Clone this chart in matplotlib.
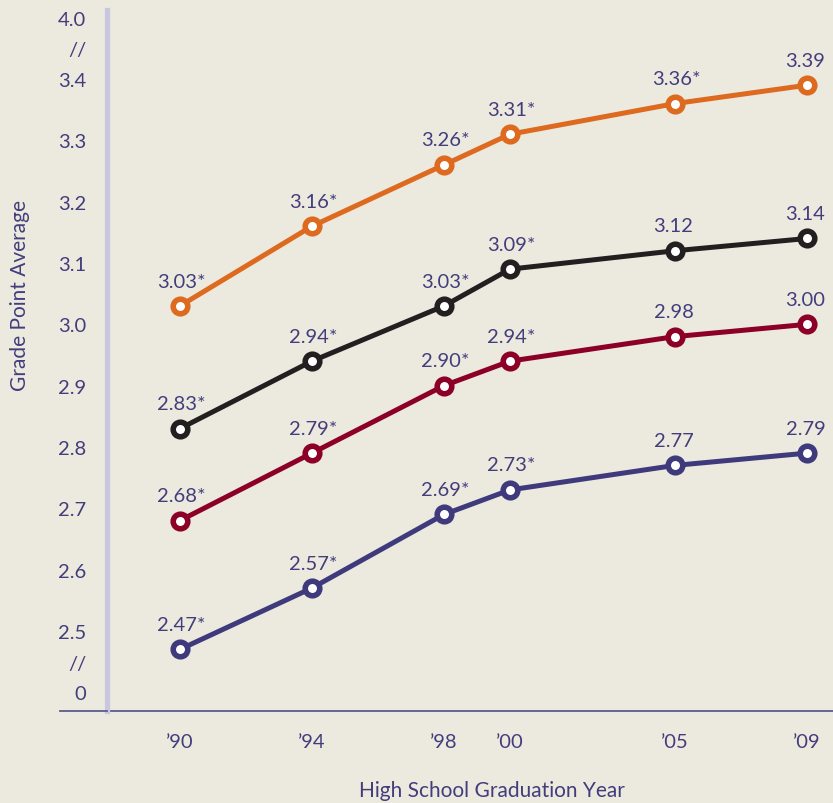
import matplotlib
matplotlib.use("Agg")
import matplotlib.pyplot as plt
from matplotlib.lines import Line2D

plt.rcParams['font.family'] = ['Lato', 'DejaVu Sans']

years = [1990, 1994, 1998, 2000, 2005, 2009]
year_labels = ["\u201990", "\u201994", "\u201998", "\u201900", "\u201905", "\u201909"]

gpa_orange = [3.03, 3.16, 3.26, 3.31, 3.36, 3.39]
gpa_black = [2.83, 2.94, 3.03, 3.09, 3.12, 3.14]
gpa_red = [2.68, 2.79, 2.90, 2.94, 2.98, 3.00]
gpa_purple = [2.47, 2.57, 2.69, 2.73, 2.77, 2.79]

star_orange = [True, True, True, True, True, False]
star_other = [True, True, True, True, False, False]

# axis ticks (break marks stand in for the gaps 0..2.5 and 3.4..4.0)
ytick_pos = [2.4, 2.45, 2.5, 2.6, 2.7, 2.8, 2.9, 3.0, 3.1, 3.2, 3.3, 3.4, 3.45, 3.5]
ytick_labels = ["0", "//", "2.5", "2.6", "2.7", "2.8", "2.9", "3.0", "3.1", "3.2",
                "3.3", "3.4", "//", "4.0"]

bg = "#ECEADF"
text_col = "#433D7C"

series = [
    (gpa_orange, "#DD6A1F", star_orange),
    (gpa_black, "#231F20", star_other),
    (gpa_red, "#8C0027", star_other),
    (gpa_purple, "#3F3A7C", star_other),
]

W, H = 833, 804
fig = plt.figure(figsize=(W / 100, H / 100), dpi=100, facecolor=bg)
ax = fig.add_axes([107 / W, 92 / H, (833 - 107) / W, (712 - 11) / H])
ax.set_facecolor(bg)

for vals, col, stars in series:
    ax.plot(years, vals, color=col, lw=3.6, marker='o', ms=10.5,
            mfc='white', mec=col, mew=4, solid_capstyle='round', zorder=3)
    for x, v, s in zip(years, vals, stars):
        lab = "%.2f" % v + ("*" if s else "")
        ax.annotate(lab, (x, v), xytext=(1 if s else -1, 14), textcoords='offset points',
                    ha='center', va='baseline', fontsize=14.5, color=text_col)

ax.set_xlim(1987.79, 2009.79)
ax.set_ylim(2.3695, 3.5126)
ax.set_xticks(years)
ax.set_xticklabels(year_labels)
ax.set_yticks(ytick_pos)
ax.set_yticklabels(ytick_labels)
ax.tick_params(length=0, labelsize=14.5, labelcolor=text_col)
ax.tick_params(axis='y', pad=15)
ax.tick_params(axis='x', pad=16)

for s in ['top', 'right']:
    ax.spines[s].set_visible(False)
ax.spines['left'].set_color("#C9C7DF")
ax.spines['left'].set_linewidth(3.8)
ax.spines['bottom'].set_color("#5D5A8E")
ax.spines['bottom'].set_linewidth(1.3)
ax.spines['bottom'].set_zorder(1)

# bottom line continues left past the y axis bar
fig.add_artist(Line2D([60 / W, 107 / W], [92 / H, 92 / H], color="#5D5A8E", lw=1.3))

ax.set_ylabel("Grade Point Average", fontsize=15, color=text_col)
ax.set_xlabel("High School Graduation Year", fontsize=15, color=text_col)
ax.xaxis.set_label_coords((492 - 107) / (833 - 107), -(781 - 712) / (712 - 11))
ax.yaxis.set_label_coords(-(107 - 30) / (833 - 107), (712 - 296) / (712 - 11))

fig.savefig("out.png", dpi=100, facecolor=bg)
